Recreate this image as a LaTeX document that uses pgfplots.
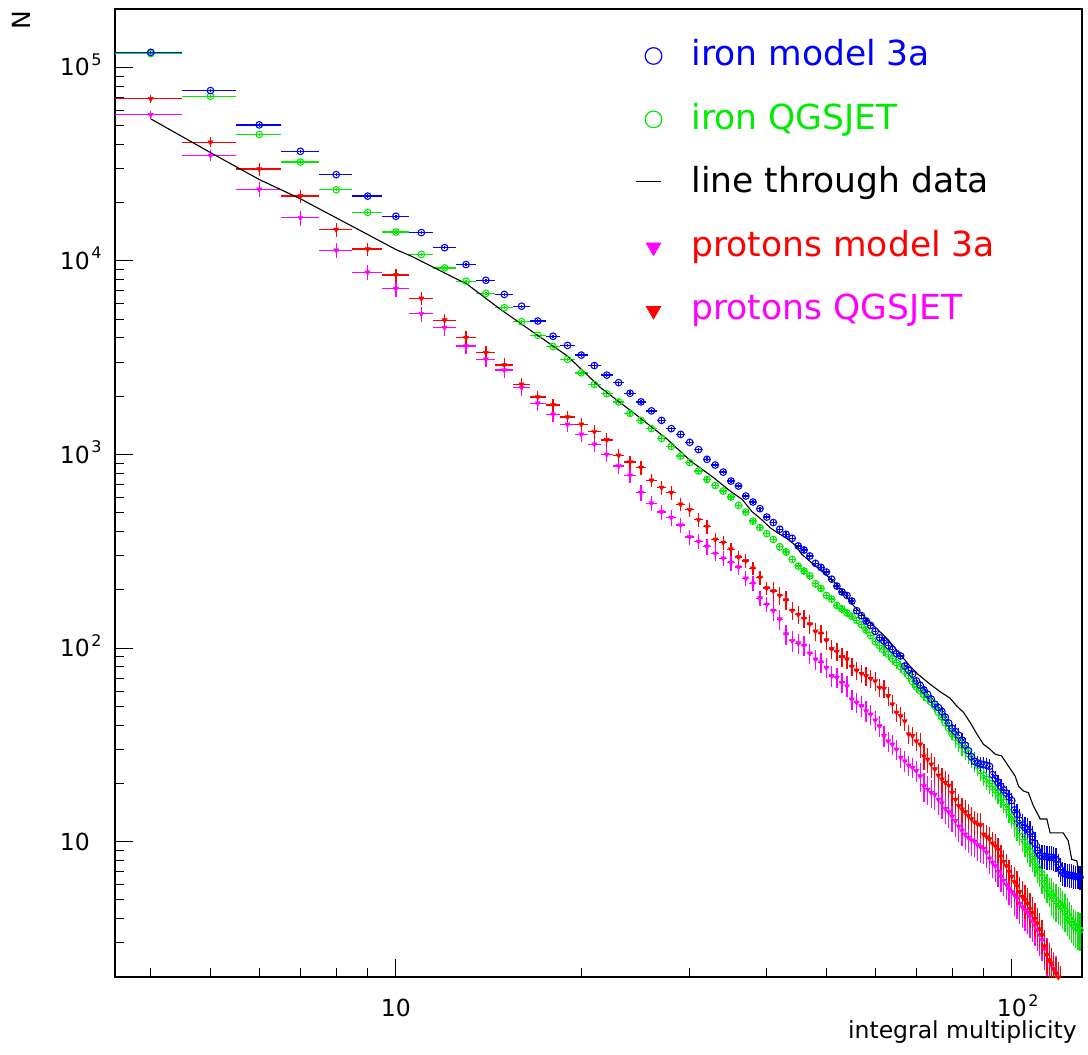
\documentclass[border=0pt]{standalone}
\usepackage{pgfplots}
\pgfplotsset{compat=1.18}
\usepackage{pgfplotstable}
\usepackage{fontspec}
\setmainfont{DejaVu Sans}
\definecolor{rblue}{RGB}{0,0,255}
\definecolor{rgreen}{RGB}{0,235,0}
\definecolor{rred}{RGB}{255,0,0}
\definecolor{rmag}{RGB}{255,0,255}
\newcommand{\sups}[1]{\rlap{\smash{\hspace{1.5pt}\raisebox{10.5pt}{\fontsize{16}{16}\selectfont #1}}}}
\pgfplotsset{
  legcirc/.style={legend image code/.code={\draw[##1] plot[only marks] coordinates {(18pt,10pt)};}},
  legtri/.style={legend image code/.code={\draw[##1] plot[only marks] coordinates {(18pt,9pt)};}},
  legline/.style={legend image code/.code={\draw[##1] (0pt,11pt) -- (25pt,11pt);}},
  databars/.style={error bars/.cd, x dir=both, x fixed=0.5, y dir=both, y explicit relative,
    error mark=none, error bar style={line width=1.3pt, #1}},
}

% iron model 3a
\pgfplotstableread[row sep=\\]{
x y e\\
4 119500 0.02\\ 5 75800 0.02\\ 6 50400 0.02\\ 7 36800 0.02\\ 8 27900 0.02\\ 9 21600 0.02\\ 10 17000 0.02\\
11 14000 0.02\\ 12 11700 0.02\\ 13 9570 0.02\\ 14 7940 0.02\\ 15 6710 0.02\\ 16 5830 0.02\\ 17 4890 0.02\\
18 4080 0.02\\ 19 3660 0.02\\ 20 3260 0.02\\ 21 2880 0.025\\ 22 2570 0.025\\ 23 2350 0.025\\ 24 2070 0.025\\
25 1870 0.025\\ 26 1680 0.025\\ 27 1500 0.025\\ 28 1360 0.025\\ 29 1270 0.025\\ 30 1155 0.025\\ 31 1060 0.025\\
32 944 0.025\\ 33 882 0.025\\ 34 811 0.025\\ 35 729 0.025\\ 36 687 0.025\\ 37 610 0.025\\ 38 568 0.025\\
39 525 0.025\\ 40 475 0.025\\ 41 445 0.035\\ 42 411 0.035\\ 43 387 0.035\\ 44 369 0.035\\ 45 337 0.035\\
46 321 0.035\\ 47 299 0.035\\ 48 274 0.035\\ 49 261 0.035\\ 50 247 0.035\\ 51 227 0.035\\ 52 209 0.035\\
53 195 0.035\\ 54 187 0.035\\ 55 175 0.035\\ 56 156 0.035\\ 57 147 0.035\\ 58 138 0.035\\ 59 131 0.035\\
60 122 0.035\\ 61 113 0.05\\ 62 109 0.05\\ 63 103 0.05\\ 64 98.6 0.05\\ 65 93.7 0.05\\ 66 91 0.05\\
67 80.8 0.05\\ 68 76.8 0.05\\ 69 73.3 0.05\\ 70 67.7 0.05\\ 71 64.3 0.05\\ 72 60.8 0.05\\ 73 57.8 0.05\\
74 54.5 0.05\\ 75 51.3 0.05\\ 76 49.3 0.05\\ 77 47 0.05\\ 78 44 0.05\\ 79 41 0.05\\ 80 38.5 0.05\\
81 37 0.09\\ 82 35.5 0.09\\ 83 33.5 0.09\\ 84 31.5 0.09\\ 85 29.5 0.09\\ 86 27.5 0.09\\ 87 26 0.09\\
88 25.5 0.09\\ 89 25.2 0.09\\ 90 25 0.09\\ 91 24.8 0.09\\ 92 24.5 0.09\\ 93 22.2 0.09\\ 94 21.2 0.09\\
95 20.2 0.09\\ 96 19.3 0.09\\ 97 18.5 0.09\\ 98 17.8 0.09\\ 99 17 0.09\\ 100 16.3 0.09\\ 101 14.6 0.14\\
102 13.8 0.14\\ 103 12.9 0.14\\ 104 12.2 0.14\\ 105 11.8 0.14\\ 106 11.6 0.14\\ 107 11.2 0.14\\ 108 10.6 0.14\\
109 9.8 0.14\\ 110 9.0 0.14\\ 111 8.5 0.14\\ 112 8.4 0.14\\ 113 8.4 0.14\\ 114 8.35 0.14\\ 115 8.3 0.14\\
116 8.3 0.14\\ 117 8.25 0.14\\ 118 8.1 0.14\\ 119 7.6 0.14\\ 120 7.2 0.14\\ 121 6.9 0.14\\ 122 6.8 0.14\\
123 6.75 0.14\\ 124 6.7 0.14\\ 125 6.7 0.14\\ 126 6.65 0.14\\ 127 6.6 0.14\\ 128 6.6 0.14\\ 129 6.55 0.14\\
}\ironA

% iron QGSJET
\pgfplotstableread[row sep=\\]{
x y e\\
4 117700 0.02\\ 5 70800 0.02\\ 6 45000 0.02\\ 7 32400 0.02\\ 8 23300 0.02\\ 9 17800 0.02\\ 10 14100 0.02\\
11 10800 0.02\\ 12 9200 0.02\\ 13 7850 0.02\\ 14 6790 0.02\\ 15 5730 0.02\\ 16 4850 0.02\\ 17 4130 0.02\\
18 3610 0.02\\ 19 3100 0.02\\ 20 2640 0.02\\ 21 2300 0.03\\ 22 2060 0.03\\ 23 1870 0.03\\ 24 1630 0.03\\
25 1500 0.03\\ 26 1360 0.03\\ 27 1210 0.03\\ 28 1100 0.03\\ 29 982 0.03\\ 30 908 0.03\\ 31 821 0.03\\
32 743 0.03\\ 33 692 0.03\\ 34 647 0.03\\ 35 603 0.03\\ 36 546 0.03\\ 37 504 0.03\\ 38 453 0.03\\
39 419 0.03\\ 40 390 0.03\\ 41 364 0.045\\ 42 334 0.045\\ 43 314 0.045\\ 44 287 0.045\\ 45 265 0.045\\
46 250 0.045\\ 47 236 0.045\\ 48 215 0.045\\ 49 203 0.045\\ 50 187 0.045\\ 51 179 0.045\\ 52 166 0.045\\
53 159 0.045\\ 54 152 0.045\\ 55 146 0.045\\ 56 139 0.045\\ 57 132 0.045\\ 58 124 0.045\\ 59 116 0.045\\
60 108 0.045\\ 61 103 0.07\\ 62 98 0.07\\ 63 93 0.07\\ 64 88 0.07\\ 65 84 0.07\\ 66 80 0.07\\
67 76 0.07\\ 68 72 0.07\\ 69 67 0.07\\ 70 63 0.07\\ 71 60 0.07\\ 72 57.5 0.07\\ 73 55 0.07\\
74 52.5 0.07\\ 75 50 0.07\\ 76 46.5 0.07\\ 77 44 0.07\\ 78 41 0.07\\ 79 38.5 0.07\\ 80 36 0.07\\
81 34.5 0.12\\ 82 33 0.12\\ 83 31.5 0.12\\ 84 30 0.12\\ 85 28.5 0.12\\ 86 27.2 0.12\\ 87 26 0.12\\
88 24.8 0.12\\ 89 23.3 0.12\\ 90 22 0.12\\ 91 21 0.12\\ 92 20 0.12\\ 93 19.3 0.12\\ 94 18.6 0.12\\
95 17.8 0.12\\ 96 16.9 0.12\\ 97 16 0.12\\ 98 15.1 0.12\\ 99 14.2 0.12\\ 100 13.4 0.12\\ 101 12.8 0.17\\
102 12.1 0.17\\ 103 11.4 0.17\\ 104 10.6 0.17\\ 105 10.0 0.17\\ 106 9.4 0.17\\ 107 8.9 0.17\\ 108 8.4 0.17\\
109 7.9 0.17\\ 110 7.4 0.17\\ 111 7.0 0.17\\ 112 6.5 0.17\\ 113 6.1 0.17\\ 114 5.8 0.17\\ 115 5.55 0.17\\
116 5.3 0.22\\ 117 5.1 0.22\\ 118 4.95 0.22\\ 119 4.8 0.22\\ 120 4.7 0.22\\ 121 4.55 0.22\\ 122 4.4 0.22\\
123 4.2 0.22\\ 124 4.0 0.22\\ 125 3.85 0.22\\ 126 3.7 0.22\\ 127 3.6 0.22\\ 128 3.55 0.22\\ 129 3.5 0.22\\
}\ironQ

% protons model 3a
\pgfplotstableread[row sep=\\]{
x y e\\
4 68700 0.045\\ 5 41000 0.06\\ 6 29800 0.08\\ 7 21600 0.08\\ 8 14500 0.08\\ 9 11500 0.08\\ 10 8440 0.08\\
11 6400 0.08\\ 12 4940 0.08\\ 13 4010 0.08\\ 14 3350 0.08\\ 15 2900 0.08\\ 16 2300 0.08\\ 17 1980 0.08\\
18 1800 0.08\\ 19 1560 0.08\\ 20 1430 0.08\\ 21 1310 0.08\\ 22 1190 0.08\\ 23 989 0.08\\ 24 914 0.08\\
25 855 0.08\\ 26 735 0.08\\ 27 674 0.08\\ 28 635 0.08\\ 29 552 0.08\\ 30 518 0.08\\ 31 460 0.08\\
32 424 0.08\\ 33 364 0.08\\ 34 351 0.08\\ 35 324 0.08\\ 36 295 0.08\\ 37 282 0.08\\ 38 258 0.08\\
39 231 0.08\\ 40 204 0.08\\ 41 197 0.11\\ 42 187 0.11\\ 43 177 0.11\\ 44 156 0.11\\ 45 149 0.11\\
46 142 0.11\\ 47 133 0.11\\ 48 122 0.11\\ 49 119 0.11\\ 50 110 0.11\\ 51 99 0.11\\ 52 96 0.11\\
53 90 0.11\\ 54 87.5 0.11\\ 55 80.2 0.11\\ 56 76.7 0.11\\ 57 73.8 0.11\\ 58 71.8 0.11\\ 59 69.6 0.11\\
60 67.6 0.11\\ 61 62.5 0.11\\ 62 61.8 0.11\\ 63 56.6 0.11\\ 64 51.3 0.11\\ 65 46.5 0.11\\ 66 44.6 0.11\\
67 42 0.11\\ 68 35.9 0.11\\ 69 35.2 0.11\\ 70 33.1 0.11\\ 71 31.8 0.15\\ 72 27.7 0.15\\ 73 26.6 0.15\\
74 25.1 0.15\\ 75 23.7 0.15\\ 76 22 0.15\\ 77 21 0.15\\ 78 20.2 0.15\\ 79 19.5 0.15\\ 80 17.9 0.15\\
81 16.5 0.15\\ 82 15.3 0.15\\ 83 14.7 0.15\\ 84 14.2 0.15\\ 85 13.6 0.15\\ 86 13.1 0.15\\ 87 12.6 0.15\\
88 12.3 0.15\\ 89 12.2 0.15\\ 90 10.9 0.15\\ 91 10.6 0.15\\ 92 10.3 0.15\\ 93 9.8 0.15\\ 94 9.5 0.15\\
95 9.1 0.15\\ 96 8.4 0.15\\ 97 7.9 0.15\\ 98 7.5 0.15\\ 99 7.0 0.15\\ 100 6.6 0.15\\ 101 6.2 0.2\\
102 5.9 0.2\\ 103 5.5 0.2\\ 104 5.2 0.2\\ 105 5.0 0.2\\ 106 4.8 0.2\\ 107 4.5 0.2\\ 108 4.3 0.2\\
109 4.0 0.2\\ 110 3.8 0.2\\ 111 3.55 0.2\\ 112 3.3 0.2\\ 113 2.9 0.2\\ 114 2.6 0.2\\ 115 2.45 0.2\\
116 2.35 0.2\\ 117 2.2 0.2\\ 118 2.08 0.2\\ 119 2.0 0.2\\ 120 1.9 0.2\\
}\protA

% protons QGSJET
\pgfplotstableread[row sep=\\]{
x y e\\
4 56800 0.05\\ 5 35100 0.07\\ 6 23400 0.09\\ 7 16700 0.09\\ 8 11350 0.09\\ 9 8740 0.09\\ 10 7190 0.09\\
11 5330 0.09\\ 12 4520 0.09\\ 13 3630 0.09\\ 14 3100 0.09\\ 15 2730 0.09\\ 16 2210 0.09\\ 17 1840 0.09\\
18 1610 0.09\\ 19 1430 0.09\\ 20 1270 0.09\\ 21 1130 0.09\\ 22 1000 0.09\\ 23 871 0.09\\ 24 780 0.09\\
25 635 0.09\\ 26 560 0.09\\ 27 505 0.09\\ 28 472 0.09\\ 29 432 0.09\\ 30 375 0.09\\ 31 355 0.09\\
32 334 0.09\\ 33 308 0.09\\ 34 291 0.09\\ 35 276 0.09\\ 36 262 0.09\\ 37 229 0.09\\ 38 216 0.09\\
39 181 0.09\\ 40 168 0.09\\ 41 156 0.12\\ 42 141 0.12\\ 43 118 0.12\\ 44 109 0.12\\ 45 106 0.12\\
46 103 0.12\\ 47 94 0.12\\ 48 87.5 0.12\\ 49 84.5 0.12\\ 50 79.3 0.12\\ 51 71.8 0.12\\ 52 70.4 0.12\\
53 66.4 0.12\\ 54 63.7 0.12\\ 55 54.4 0.12\\ 56 52.3 0.12\\ 57 50.3 0.12\\ 58 47.3 0.12\\ 59 45.5 0.12\\
60 42.4 0.12\\ 61 39.6 0.12\\ 62 35.2 0.12\\ 63 33.1 0.12\\ 64 31.8 0.12\\ 65 30 0.12\\ 66 27.2 0.12\\
67 26.1 0.12\\ 68 24.8 0.12\\ 69 24.1 0.12\\ 70 23.2 0.12\\ 71 21.8 0.17\\ 72 19.4 0.17\\ 73 18.6 0.17\\
74 17.9 0.17\\ 75 17.5 0.17\\ 76 16.5 0.17\\ 77 15.8 0.17\\ 78 14.8 0.17\\ 79 14.2 0.17\\ 80 13.5 0.17\\
81 12.8 0.17\\ 82 12.0 0.17\\ 83 11.4 0.17\\ 84 10.9 0.17\\ 85 10.5 0.17\\ 86 10.2 0.17\\ 87 10.0 0.17\\
88 9.6 0.17\\ 89 9.4 0.17\\ 90 9.2 0.17\\ 91 8.8 0.17\\ 92 8.2 0.17\\ 93 7.8 0.17\\ 94 7.5 0.17\\
95 7.0 0.17\\ 96 6.6 0.17\\ 97 6.3 0.17\\ 98 6.0 0.17\\ 99 5.7 0.17\\ 100 5.5 0.17\\ 101 5.3 0.22\\
102 5.1 0.22\\ 103 4.8 0.22\\ 104 4.6 0.22\\ 105 4.45 0.22\\ 106 4.3 0.22\\ 107 4.1 0.22\\ 108 3.9 0.22\\
109 3.7 0.22\\ 110 3.5 0.22\\ 111 3.3 0.22\\ 112 3.1 0.22\\ 113 2.8 0.22\\ 114 2.6 0.22\\ 115 2.45 0.22\\
116 2.3 0.22\\ 117 2.2 0.22\\ 118 2.1 0.22\\ 119 1.95 0.22\\ 120 1.85 0.22\\
}\protQ

\begin{document}
\begin{tikzpicture}[x=1pt,y=1pt]
\path[use as bounding box] (0,0) rectangle (1088,-1055);
\begin{axis}[
  at={(115pt,-977pt)}, anchor=south west,
  width=967pt, height=968pt, scale only axis,
  xmode=log, ymode=log,
  xmin=3.5, xmax=130, ymin=2, ymax=2e5,
  axis line style={line width=1.4pt},
  tick align=inside, tick pos=left,
  major tick length=18pt, minor tick length=9pt,
  every tick/.style={black, line width=1pt},
  xtick={10,100}, xticklabels={10,10\sups{2}},
  minor xtick={4,5,6,7,8,9,20,30,40,50,60,70,80,90},
  ytick={10,100,1000,10000,100000},
  yticklabels={10,10\sups{2},10\sups{3},10\sups{4},10\sups{5}},
  minor ytick={2,3,4,5,6,7,8,9,20,30,40,50,60,70,80,90,200,300,400,500,600,700,800,900,2000,3000,4000,5000,6000,7000,8000,9000,20000,30000,40000,50000,60000,70000,80000,90000},
  xticklabel style={anchor=north, inner sep=0pt, yshift=-22pt, font=\fontsize{23.5}{24}\selectfont},
  yticklabel style={anchor=east, inner sep=0pt, xshift=-25pt, font=\fontsize{23.5}{24}\selectfont},
  legend style={at={(axis description cs:0.5377,0.968)}, anchor=north west,
    draw=none, fill=none, inner sep=0pt, outer sep=0pt,
    row sep=29.4pt, column sep=29.7pt,
    cells={anchor=base west},
    nodes={inner sep=0pt, text height=26pt, text depth=8pt, font=\fontsize{34.5}{36}\selectfont}},
]
\addlegendimage{rblue, line width=1.2pt, mark=o, mark size=8.3pt, legcirc}
\addlegendimage{rgreen, line width=1.2pt, mark=o, mark size=8.3pt, legcirc}
\addlegendimage{black, line width=1.1pt, legline}
\addlegendimage{rmag, mark=triangle*, mark size=8.7pt, mark options={rotate=180}, legtri}
\addlegendimage{rred, mark=triangle*, mark size=8.7pt, mark options={rotate=180}, legtri}
\legend{\textcolor{rblue}{iron model 3a},\textcolor{rgreen}{iron QGSJET},\textcolor{black}{line through data},\textcolor{rred}{protons model 3a},\textcolor{rmag}{protons QGSJET}}

\addplot[forget plot, rmag, only marks, mark=triangle*, mark size=3pt, mark options={rotate=180},
  databars=rmag] table[x=x, y=y, y error=e] {\protQ};
\addplot[forget plot, rred, only marks, mark=triangle*, mark size=3pt, mark options={rotate=180},
  databars=rred] table[x=x, y=y, y error=e] {\protA};
\addplot[forget plot, rgreen, only marks, mark=o, mark size=3.3pt, line width=1.1pt,
  databars=rgreen] table[x=x, y=y, y error=e] {\ironQ};
\addplot[forget plot, rblue, only marks, mark=o, mark size=3.3pt, line width=1.1pt,
  databars=rblue] table[x=x, y=y, y error=e] {\ironA};
\addplot[forget plot, black, line width=1.1pt, no marks] coordinates {
(4.0,54150) (4.99,36400) (6,26320) (7,20920) (8,16690) (9,13690) (10,11450) (10.6,10570)
(13.07,7553) (14.79,5613) (16.73,4269) (19.0,3221) (21.5,2213) (24.3,1644) (27.6,1197)
(30.1,925) (32.8,759) (34.9,647) (36.5,586) (37.9,505) (39.1,466) (40.5,419) (41.6,395)
(43.2,367) (44.5,340) (45.6,305) (47.3,276) (49.5,245) (52.0,213) (55.4,165) (59.0,135)
(62.9,111) (66.9,87.5) (68.3,80.9) (70.4,73.3) (73.7,65.0) (76.5,59.5) (79.4,55.1)
(81.4,50.2) (83.5,46.5) (85.6,41.2) (87.8,35.9) (89.9,31.9) (92.2,30.0) (94.0,28.3)
(96.3,27.7) (98.7,24.6) (101.2,21.9) (102.5,19.4) (104.4,18.3) (106.4,17.9) (108.4,15.3)
(111.2,13.1) (114.0,13.1) (115.4,11.1) (121.2,11.1) (123.5,10.1) (125.1,8.1) (127.5,7.96)
(129.1,6.4)};
\end{axis}
\node[rotate=90, inner sep=0pt, font=\fontsize{25}{26}\selectfont] at (21,-20) {N};
\node[anchor=base east, inner sep=0pt, font=\fontsize{23.5}{24}\selectfont] at (1077,-1038) {integral multiplicity};
\end{tikzpicture}
\end{document}
